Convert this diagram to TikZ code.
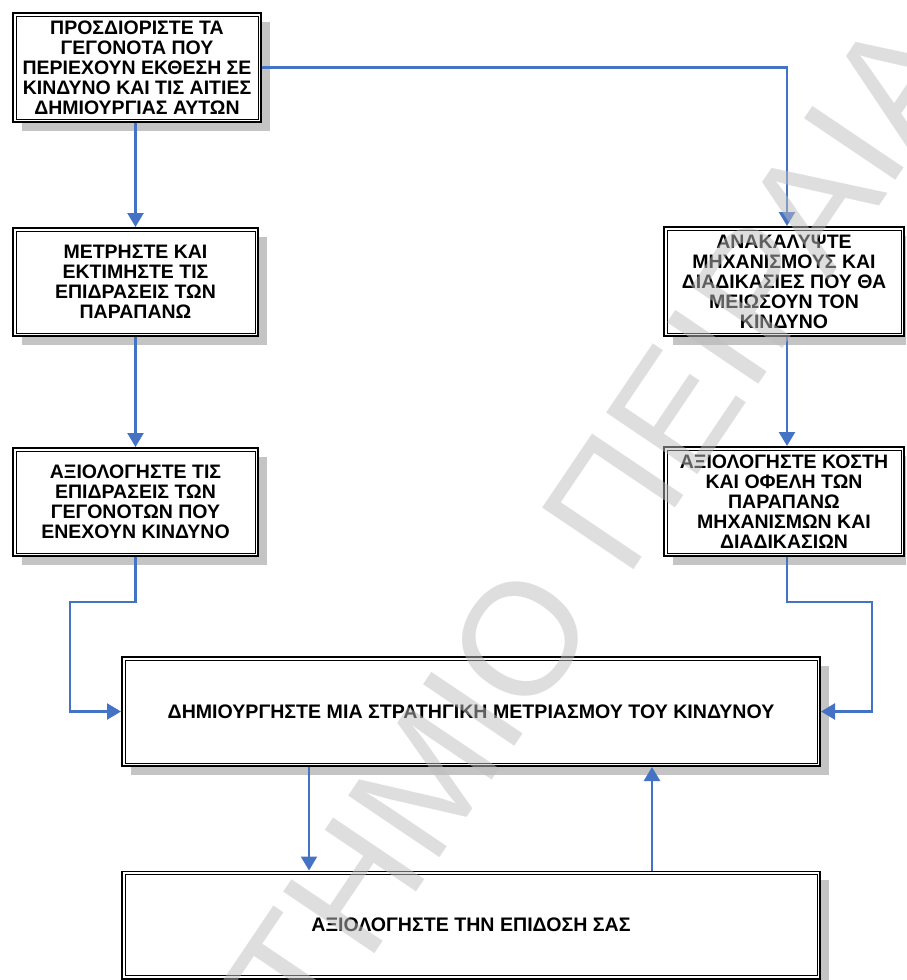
\documentclass[tikz,border=0pt]{standalone}
\usepackage{fontspec}
\setmainfont{Liberation Sans}
\newfontfamily\wmfont{Liberation Sans}
\usetikzlibrary{arrows.meta,shadows,calc}
\definecolor{connblue}{RGB}{68,114,196}
\definecolor{shadowgray}{RGB}{196,196,196}
\definecolor{wmgray}{RGB}{190,190,190}
\begin{document}
\begin{tikzpicture}[x=1pt,y=-1pt,
  stepbox/.style={draw=black, line width=1.8pt, fill=white, inner sep=2pt, align=center,
    font=\bfseries\fontsize{19.5}{20}\selectfont,
    drop shadow={shadow xshift=9pt, shadow yshift=-9pt, fill=shadowgray, opacity=1}},
  widebox/.style={stepbox, font=\bfseries\fontsize{19.6}{20}\selectfont},
  innerframe/.style={draw=black, line width=0.8pt},
  conn/.style={draw=connblue, line width=2.4pt, -{Triangle[length=14pt,width=16pt]}},
  wm/.style={font=\wmfont\fontsize{160}{160}\selectfont, text=wmgray, text opacity=0.5,
    rotate=56, inner sep=0pt}
]
\useasboundingbox (0,0) rectangle (906,980);
\clip (0,0) rectangle (906,980);
\fill[white] (0,0) rectangle (906,980);

% boxes
\node[stepbox, minimum width=248.2pt, minimum height=109.2pt] (b1) at (137,67.5)
  {ΠΡΟΣΔΙΟΡΙΣΤΕ ΤΑ\\ΓΕΓΟΝΟΤΑ ΠΟΥ\\ΠΕΡΙΕΧΟΥΝ ΕΚΘΕΣΗ ΣΕ\\ΚΙΝΔΥΝΟ ΚΑΙ ΤΙΣ ΑΙΤΙΕΣ\\ΔΗΜΙΟΥΡΓΙΑΣ ΑΥΤΩΝ};
\node[stepbox, minimum width=245.2pt, minimum height=108.2pt] (b2) at (135.5,282)
  {ΜΕΤΡΗΣΤΕ ΚΑΙ\\ΕΚΤΙΜΗΣΤΕ ΤΙΣ\\ΕΠΙΔΡΑΣΕΙΣ ΤΩΝ\\ΠΑΡΑΠΑΝΩ};
\node[stepbox, minimum width=245.2pt, minimum height=108.2pt] (b3) at (135.5,502)
  {ΑΞΙΟΛΟΓΗΣΤΕ ΤΙΣ\\ΕΠΙΔΡΑΣΕΙΣ ΤΩΝ\\ΓΕΓΟΝΟΤΩΝ ΠΟΥ\\ΕΝΕΧΟΥΝ ΚΙΝΔΥΝΟ};
\node[stepbox, minimum width=240.2pt, minimum height=109.2pt] (bA) at (784,281.5)
  {ΑΝΑΚΑΛΥΨΤΕ\\ΜΗΧΑΝΙΣΜΟΥΣ ΚΑΙ\\ΔΙΑΔΙΚΑΣΙΕΣ ΠΟΥ ΘΑ\\ΜΕΙΩΣΟΥΝ ΤΟΝ\\ΚΙΝΔΥΝΟ};
\node[stepbox, minimum width=240.2pt, minimum height=109.2pt] (bB) at (784,501.5)
  {ΑΞΙΟΛΟΓΗΣΤΕ ΚΟΣΤΗ\\ΚΑΙ ΟΦΕΛΗ ΤΩΝ\\ΠΑΡΑΠΑΝΩ\\ΜΗΧΑΝΙΣΜΩΝ ΚΑΙ\\ΔΙΑΔΙΚΑΣΙΩΝ};
\node[widebox, minimum width=698.2pt, minimum height=109.2pt] (bM) at (471,711.5)
  {ΔΗΜΙΟΥΡΓΗΣΤΕ ΜΙΑ ΣΤΡΑΤΗΓΙΚΗ ΜΕΤΡΙΑΣΜΟΥ ΤΟΥ ΚΙΝΔΥΝΟΥ};
\node[widebox, minimum width=698.2pt, minimum height=107.2pt] (bE) at (471,925)
  {ΑΞΙΟΛΟΓΗΣΤΕ ΤΗΝ ΕΠΙΔΟΣΗ ΣΑΣ};

\foreach \n in {b1,b2,b3,bA,bB,bM,bE}
  \draw[innerframe] ([shift={(4,4)}]\n.north west) rectangle ([shift={(-4,-4)}]\n.south east);

% connector bends
\coordinate (l1) at (70,602);
\coordinate (r1) at (872,602);

% connectors
\draw[conn] (b1.south -| b2.north) -- (b2.north);
\draw[conn] (b2.south) -- (b3.north);
\draw[conn] (b1.east) -| ([xshift=3pt]bA.north);
\draw[conn] ([xshift=3pt]bA.south) -- ([xshift=3pt]bB.north);
\draw[conn] (b3.south) |- (l1) |- (bM.west);
\draw[conn] ([xshift=3pt]bB.south) |- (r1) |- (bM.east);
\draw[conn] ([xshift=-162pt]bM.south) -- ([xshift=-162pt]bE.north);
\draw[conn] ([xshift=181pt]bE.north) -- ([xshift=181pt]bM.south);

% watermark
\node[wm, anchor=base west] (wm2) at (626,581) {ΠΕΙΡΑΙΑ};
\node[wm, anchor=base east] (wm1) at (626,581) {ΠΑΝΕΠΙΣΤΗΜΙΟ\ \null};
\end{tikzpicture}
\end{document}
